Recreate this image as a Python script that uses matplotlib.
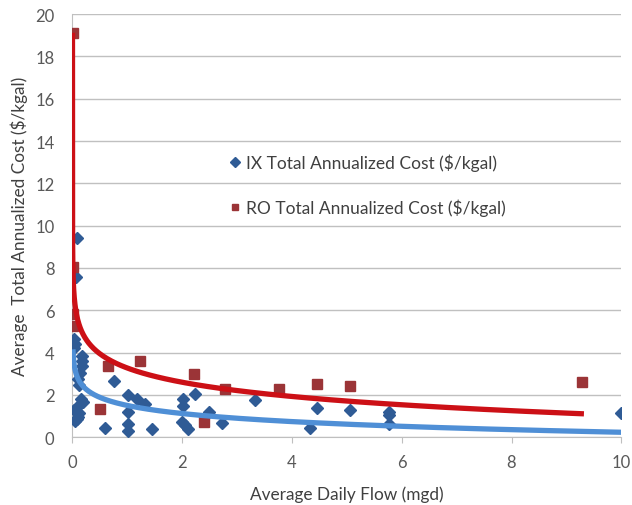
import numpy as np
import matplotlib
matplotlib.use('Agg')
import matplotlib.pyplot as plt

plt.rcParams['font.family'] = ['Lato', 'DejaVu Sans']

# IX (ion exchange) points: flow (mgd), cost ($/kgal)
ix_flow = [0.08, 0.07, 0.03, 0.05, 0.03, 0.17, 0.18, 0.17, 0.14, 0.10,
           0.11, 0.16, 0.20, 0.08, 0.02, 0.12, 0.06, 0.10, 0.04, 0.09,
           0.59, 0.75, 1.02, 1.17, 1.32, 1.02, 1.02, 1.02, 1.44, 2.01,
           2.01, 2.24, 1.99, 2.05, 2.11, 2.48, 2.72, 3.33, 4.33, 4.46,
           5.06, 5.76, 5.76, 5.77, 10.0]
ix_cost = [9.42, 7.58, 4.65, 4.42, 4.20, 3.86, 3.60, 3.35, 3.05, 2.75,
           2.45, 1.80, 1.67, 1.42, 1.30, 1.15, 1.25, 0.95, 0.75, 0.85,
           0.42, 2.68, 2.00, 1.80, 1.58, 1.20, 0.63, 0.27, 0.39, 1.81,
           1.49, 2.02, 0.72, 0.56, 0.40, 1.20, 0.66, 1.78, 0.42, 1.37,
           1.30, 1.18, 1.05, 0.63, 1.13]

# RO (reverse osmosis) points
ro_flow = [0.005, 0.005, 0.005, 0.01, 0.50, 0.65, 1.23, 2.22, 2.39, 2.78,
           3.77, 4.46, 5.06, 9.29]
ro_cost = [19.1, 8.05, 5.83, 5.26, 1.34, 3.38, 3.62, 2.99, 0.74, 2.28,
           2.28, 2.52, 2.42, 2.60]

# log trendlines y = a + b*ln(x), coefficients and span
ix_trend = (1.50, -0.55)
ix_span = (0.008, 10.0)
ro_trend = (3.27, -0.97)
ro_span = (8e-8, 9.32)

fig = plt.figure(figsize=(6.32, 5.06), dpi=100)
ax = fig.add_axes([0.1147, 0.134, 0.8683, 0.836])

ax.plot(ix_flow, ix_cost, 'D', color='#2f5b95', ms=6.5, mec='#2f5b95',
        label='IX Total Annualized Cost ($/kgal)', zorder=3)
ax.plot(ro_flow, ro_cost, 's', color='#9b3437', ms=6.5, mec='#9b3437',
        label='RO Total Annualized Cost ($/kgal)', zorder=3)

for (a, b), (x0, x1), c in [(ix_trend, ix_span, '#4f8fd6'),
                            (ro_trend, ro_span, '#cc1016')]:
    xs = np.geomspace(x0, x1, 600)
    ax.plot(xs, a + b * np.log(xs), color=c, lw=3.8, zorder=4,
            solid_capstyle='butt')

ax.set_xlim(0, 10)
ax.set_ylim(0, 20)
ax.set_xticks(range(0, 11, 2))
ax.set_yticks(range(0, 21, 2))
ax.yaxis.grid(True, color='#c0c0c0', lw=1)
ax.set_axisbelow(True)
for s in ['top', 'right']:
    ax.spines[s].set_visible(False)
for s in ['left', 'bottom']:
    ax.spines[s].set_color('#bfbfbf')
ax.tick_params(axis='both', colors='#bfbfbf', labelcolor='#595959',
               labelsize=12, length=4)
ax.tick_params(axis='x', pad=8)
ax.tick_params(axis='y', length=0, pad=13)

ax.set_xlabel('Average Daily Flow (mgd)', fontsize=12.4, color='#404040', labelpad=11)
ax.set_ylabel('Average  Total Annualized Cost ($/kgal)', fontsize=12.4,
              color='#404040', labelpad=5)

leg = ax.legend(loc='center', bbox_to_anchor=(0.535, 0.597), frameon=False,
                fontsize=12.5, labelspacing=1.6, handletextpad=0.1,
                handlelength=1.0, markerscale=0.75, labelcolor='#404040')

fig.savefig('out.png', dpi=100)
